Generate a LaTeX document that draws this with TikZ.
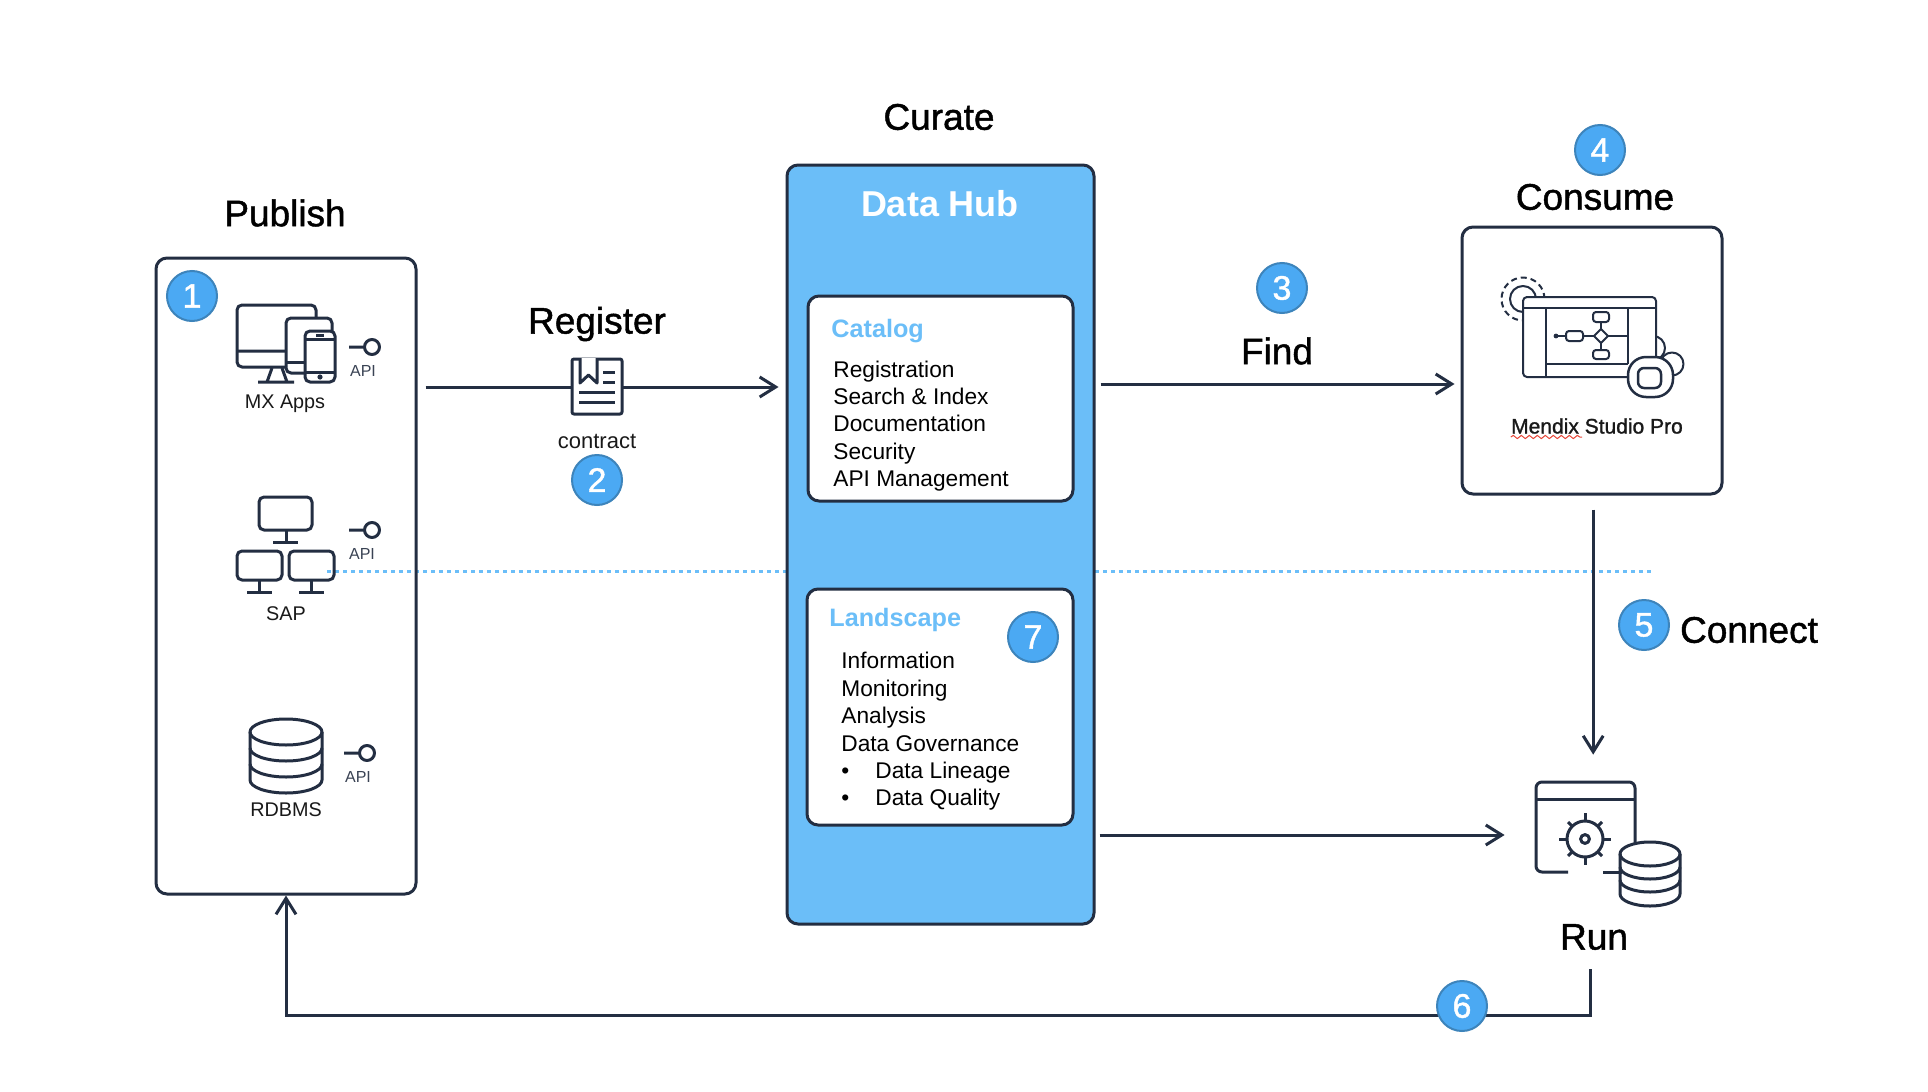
\documentclass[tikz,border=0pt]{standalone}
\usepackage{fontspec}
\setmainfont{Liberation Sans}
\newfontfamily\headfont[FakeBold=1.2]{Liberation Sans}
\usetikzlibrary{arrows.meta,decorations.pathmorphing}
\definecolor{navy}{HTML}{232E42}
\definecolor{hubblue}{HTML}{6BBEF8}
\definecolor{badgeblue}{HTML}{4BA9F3}
\definecolor{badgeedge}{HTML}{3D84BB}
\definecolor{inkgray}{HTML}{3A4354}
\definecolor{squiggle}{HTML}{E8483A}
\begin{document}
\begin{tikzpicture}
   [
   x=0.5pt, y=-0.5pt,
   box/.style={rectangle, draw=navy, fill=white, line width=1.5pt, rounded corners=5.5pt},
   hub/.style={rectangle, draw=navy, fill=hubblue, line width=1.5pt, rounded corners=5.5pt},
   badge/.style={circle, draw=badgeedge, fill=badgeblue, line width=1pt, minimum size=25pt, inner sep=0pt, text=white, font=\headfont\fontsize{17}{17}\selectfont},
   heading/.style={text=black, inner sep=0pt, font=\headfont\fontsize{18.5}{20}\selectfont},
   hubtitle/.style={text=white, inner sep=0pt, font=\bfseries\fontsize{18}{20}\selectfont},
   subtitle/.style={text=hubblue, anchor=west, inner sep=0pt, font=\bfseries\fontsize{12.6}{14}\selectfont},
   listing/.style={text=black, anchor=west, align=left, inner sep=0pt, font=\fontsize{11.35}{13.7}\selectfont},
   small/.style={text=black!90, inner sep=0pt, font=\fontsize{9.9}{12}\selectfont},
   apilabel/.style={text=inkgray, inner sep=0pt, font=\fontsize{8}{10}\selectfont},
   link/.style={draw=navy, line width=1.5pt, -{Straight Barb[length=8pt,width=10pt]}},
   lane/.style={draw=hubblue, line width=1.5pt, dash pattern=on 2pt off 2pt},
   icon/.style={draw=navy, line width=1.5pt, line join=round},
   thinicon/.style={draw=navy, line width=1pt, line join=round},
   anchorbox/.style={rectangle, inner sep=0pt},
   ]
 \useasboundingbox[fill=white] (0,0) rectangle (1928,1092);
 \coordinate (lanestart) at (327,571);
 \coordinate (laneend) at (1652,571);
 \coordinate (regrow) at (0,387);
 \coordinate (findrow) at (0,384);
 \coordinate (runrow) at (0,835);
 \coordinate (fbstart) at (1590,969);
 \draw[lane] (lanestart) -- (laneend);
 \node at (286,576) [box, fill=none, minimum width=130pt, minimum height=318pt] (pubbox) {};
 \node at (940.5,544.5) [hub, minimum width=153.5pt, minimum height=379.5pt] (hubbox) {};
 \node at (940.5,398.5) [box, minimum width=132.5pt, minimum height=102.5pt] (catbox) {};
 \node at (940,707) [box, minimum width=133pt, minimum height=118pt] (landbox) {};
 \node at (1592,360.5) [box, minimum width=130pt, minimum height=133.5pt] (consbox) {};
 \node at (1585.5,827) [anchorbox, minimum width=49.5pt, minimum height=45pt] (runicon) {};
 \node at (285,213) [heading] (publbl) {Publish};
 \node at (939,117) [heading] (curlbl) {Curate};
 \node at (597,324) [heading] (reglbl) {Register};
 \node at (1277,351) [heading] (findlbl) {Find};
 \node at (1595,197) [heading] (conslbl) {Consume};
 \node at (1749,630) [heading] (connlbl) {Connect};
 \node at (1594,937) [heading] (runlbl) {Run};
 \node at (940,204) [hubtitle] (hublbl) {Data Hub};
 \node at (831,331) [subtitle] (catlbl) {Catalog};
 \node at (829,620) [subtitle] (landlbl) {Landscape};
 \node at (833,426) [listing] (catlist) {Registration\\Search \& Index\\Documentation\\Security\\API Management};
 \node at (841,731.5) [listing] (landlist) {Information\\Monitoring\\Analysis\\Data Governance\\\makebox[17pt][l]{•}Data Lineage\\\makebox[17pt][l]{•}Data Quality};
 \draw[link, shorten <=4pt, shorten >=3.5pt] (pubbox.east |- regrow) -- (hubbox.west |- regrow);
 \draw[link, shorten <=2.5pt, shorten >=3pt] (hubbox.east |- findrow) -- (consbox.west |- findrow);
 \draw[link, shorten <=2pt, shorten >=15.5pt] (hubbox.east |- runrow) -- (runicon.west |- runrow);
 \draw[link, shorten <=7pt, shorten >=13.5pt, transform canvas={xshift=0.6pt}] (consbox.south) -- (consbox.south |- runicon.north);
 \draw[link] (fbstart) -- ++(0,46) -| (pubbox.south);
 %MX Apps
 \draw[icon, rounded corners=2.5pt] (286,367) -- (237,367) -- (237,305) -- (316,305) -- (316,320);
 \draw[icon] (237,351) -- (286,351) (272,368) -- (267,382) (282,368) -- (287,382) (258,382) -- (294,382);
 \draw[icon, fill=white, rounded corners=2.5pt] (286,318) rectangle (332,373);
 \draw[icon] (286,362) -- (305,362);
 \draw[icon, fill=white, rounded corners=2.5pt] (305,331) rectangle (335,382);
 \draw[icon] (305,339) -- (335,339) (305,372) -- (335,372) (316,335) -- (324,335);
 \fill[navy] (320,377) circle (1.3pt);
 \draw[icon] (349,347) -- (364,347) (372,347) circle (3.75pt);
 \node at (363,371) [apilabel] (api1) {API};
 \node at (285,404) [small] (mxlbl) {MX Apps};
 %SAP
 \draw[icon, rounded corners=2.5pt] (259,497) rectangle (312,530);
 \draw[icon] (286,530) -- (286,542) (273,542) -- (298,542);
 \draw[icon, rounded corners=2.5pt] (237,551) rectangle (282,580);
 \draw[icon] (259.5,580) -- (259.5,592) (247,592) -- (272,592);
 \draw[icon, rounded corners=2.5pt] (289,551) rectangle (334,580);
 \draw[icon] (311,580) -- (311,592) (299,592) -- (324,592);
 \draw[icon] (349,530) -- (364,530) (372,530) circle (3.75pt);
 \node at (362,554) [apilabel] (api2) {API};
 \node at (286,614) [small] (saplbl) {SAP};
 %RDBMS
 \draw[icon] (286,732) ellipse [x radius=18pt, y radius=6.5pt];
 \draw[icon] (250,732) -- (250,780) arc[start angle=180, end angle=360, x radius=18pt, y radius=6.5pt] -- (322,732);
 \draw[icon] (250,748) arc[start angle=180, end angle=360, x radius=18pt, y radius=6.5pt];
 \draw[icon] (250,764) arc[start angle=180, end angle=360, x radius=18pt, y radius=6.5pt];
 \draw[icon] (344,753) -- (359,753) (367,753) circle (3.75pt);
 \node at (358,777) [apilabel] (api3) {API};
 \node at (286,810) [small] (rdbmslbl) {RDBMS};
 %contract
 \draw[icon, fill=white, rounded corners=1pt] (572,359) rectangle (622,414);
 \draw[icon, fill=white] (580,358) -- (580,383) -- (588.5,375) -- (597,383) -- (597,358);
 \draw[icon] (603,372) -- (615,372) (603,382) -- (615,382) (579,392) -- (615,392) (579,402) -- (615,402);
 \node at (597,441) [small, font=\fontsize{11}{13}\selectfont] (contractlbl) {contract};
 %Studio Pro
 \draw[thinicon, densely dashed] (1523,299) circle (10.75pt);
 \draw[thinicon] (1523,299) circle (6.5pt);
 \draw[thinicon, fill=white] (1653,348) circle (6pt);
 \draw[thinicon, fill=white] (1672,364) circle (5.75pt);
 \draw[thinicon, fill=white, rounded corners=2pt] (1523,297) rectangle (1656,377);
 \draw[thinicon] (1523,308) -- (1656,308) (1546,308) -- (1546,377) (1628,308) -- (1628,364) (1546,364) -- (1628,364);
 \draw[thinicon] (1556,336) -- (1566,336) (1583,336) -- (1594,336) (1608,336) -- (1628,336) (1601,322) -- (1601,329) (1601,343) -- (1601,350);
 \fill[navy] (1556,336) circle (1.2pt);
 \draw[thinicon, rounded corners=1.5pt] (1566,331) rectangle (1583,341);
 \draw[thinicon, rounded corners=1.5pt] (1593,312) rectangle (1609,322);
 \draw[thinicon, rounded corners=1.5pt] (1593,350) rectangle (1609,359);
 \draw[thinicon] (1594,336) -- (1601,329) -- (1608,336) -- (1601,343) -- cycle;
 \draw[icon, line width=1.25pt, fill=white, rounded corners=9pt] (1628,357) rectangle (1673,397);
 \draw[icon, line width=1.25pt, rounded corners=3pt] (1638,368) rectangle (1661,388);
 \node at (1597,426) [small, font=\headfont\fontsize{10.5}{12}\selectfont] (studiolbl) {Mendix Studio Pro};
 \draw[draw=squiggle, line width=0.5pt, decorate, decoration={snake, segment length=4pt, amplitude=0.8pt}] (studiolbl.south west |- 0,437) -- (1582,437);
 %Run
 \draw[icon, rounded corners=3pt] (1568,872) -- (1536,872) -- (1536,782) -- (1635,782) -- (1635,845);
 \draw[icon] (1536,799) -- (1635,799) (1603,872) -- (1622,872);
 \draw[icon] (1585,839) circle (9pt) (1585,839) circle (2.2pt);
 \draw[icon] (1585,821) -- (1585,813) (1585,857) -- (1585,865) (1567,839) -- (1559,839) (1603,839) -- (1611,839);
 \draw[icon] (1597.7,826.3) -- (1602,822) (1572.3,826.3) -- (1568,822) (1597.7,851.7) -- (1602,856) (1572.3,851.7) -- (1568,856);
 \draw[icon, fill=white] (1650,854) ellipse [x radius=15pt, y radius=6pt];
 \draw[icon] (1620,854) -- (1620,894) arc[start angle=180, end angle=360, x radius=15pt, y radius=6pt] -- (1680,854);
 \draw[icon] (1620,867) arc[start angle=180, end angle=360, x radius=15pt, y radius=6pt];
 \draw[icon] (1620,880) arc[start angle=180, end angle=360, x radius=15pt, y radius=6pt];
 %badges
 \node at (192,296) [badge] (badge1) {1};
 \node at (597,480) [badge] (badge2) {2};
 \node at (1282,288) [badge] (badge3) {3};
 \node at (1600,150) [badge] (badge4) {4};
 \node at (1644,625) [badge] (badge5) {5};
 \node at (1462,1006) [badge] (badge6) {6};
 \node at (1033,637) [badge] (badge7) {7};
   \end{tikzpicture}
\end{document}
